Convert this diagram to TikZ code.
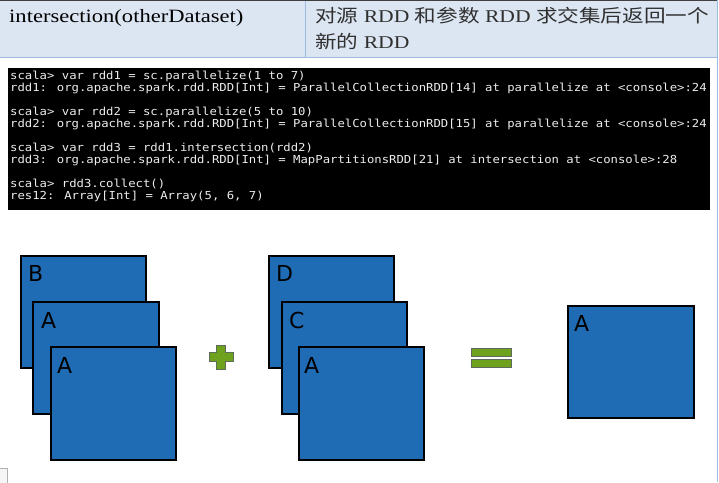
\documentclass[tikz,border=0pt]{standalone}
\usepackage{fontspec}
\setmainfont[FakeStretch=1.2]{Liberation Serif}
\newfontfamily\cjk[FakeStretch=1.2]{Noto Sans CJK SC}
\newfontfamily\consolefont[FakeStretch=1.115]{DejaVu Sans Mono}
\newfontfamily\labelfont{DejaVu Sans}
\usetikzlibrary{calc}
\definecolor{hdrbg}{HTML}{DCE6F2}
\definecolor{hdrline}{HTML}{9DBBDF}
\definecolor{topline}{HTML}{404040}
\definecolor{blockblue}{HTML}{1F6CB4}
\definecolor{opgreen}{HTML}{6EA21E}
\definecolor{opedge}{HTML}{5F6A5A}
\definecolor{consoletext}{HTML}{EDEDED}
\definecolor{cjkgray}{HTML}{303030}
\tikzset{
  block/.style={draw=black, fill=blockblue, line width=1.5pt, anchor=north west,
    inner sep=0, outer sep=0},
  lbl/.style={anchor=north west, inner sep=0, font=\labelfont\fontsize{22}{22}\selectfont, text=black},
  codeline/.style={anchor=base west, inner sep=0, text=consoletext,
    font=\consolefont\fontsize{11}{12}\selectfont},
  optile/.style={fill=opgreen, draw=opedge, line width=1pt},
  hdrtext/.style={anchor=base west, inner sep=0}
}
\begin{document}
\begin{tikzpicture}[x=1pt,y=-1pt]
\useasboundingbox (0,0) rectangle (719,482);
\fill[white] (0,0) rectangle (719,482);
% header row
\fill[hdrbg] (0,1) rectangle (717,57);
\draw[topline, line width=1.2pt] (0,0.6) -- (717,0.6);
\draw[hdrline, line width=1pt] (0,57) -- (717,57);
\draw[hdrline, line width=1pt] (305,1) -- (305,57);
\draw[hdrline, line width=1pt] (717.5,0) -- (717.5,482);
\node[hdrtext, font=\fontsize{18.8}{22}\selectfont] (hname) at (9,22) {intersection(otherDataset)};
\node[hdrtext, text=cjkgray, font=\fontsize{18}{22}\selectfont] (hdesc1) at (315,22)
  {{\cjk 对源} RDD {\cjk 和参数} RDD {\cjk 求交集后返回一个}};
\node[hdrtext, text=cjkgray, font=\fontsize{18}{22}\selectfont] (hdesc2) at (315,48)
  {{\cjk 新的} RDD};
% console
\node[fill=black, anchor=north west, minimum width=702pt, minimum height=142pt, inner sep=0] (console) at (8,68) {};
\node[codeline] (l1) at (10,79) {scala> var rdd1 = sc.parallelize(1 to 7)};
\node[codeline] (l2) at (10,91) {rdd1: org.apache.spark.rdd.RDD[Int] = ParallelCollectionRDD[14] at parallelize at <console>:24};
\node[codeline] (l3) at (10,115) {scala> var rdd2 = sc.parallelize(5 to 10)};
\node[codeline] (l4) at (10,127) {rdd2: org.apache.spark.rdd.RDD[Int] = ParallelCollectionRDD[15] at parallelize at <console>:24};
\node[codeline] (l5) at (10,151) {scala> var rdd3 = rdd1.intersection(rdd2)};
\node[codeline] (l6) at (10,163) {rdd3: org.apache.spark.rdd.RDD[Int] = MapPartitionsRDD[21] at intersection at <console>:28};
\node[codeline] (l7) at (10,187) {scala> rdd3.collect()};
\node[codeline] (l8) at (10,199) {res12: Array[Int] = Array(5, 6, 7)};
% first dataset
\node[block, minimum width=125pt, minimum height=112pt] (b1) at (21,256) {};
\node[lbl] (b1l) at ($(b1.north west)+(7,9)$) {B};
\node[block, minimum width=126pt, minimum height=112pt] (a1) at (33,302) {};
\node[lbl] (a1l) at ($(a1.north west)+(8,10)$) {A};
\node[block, minimum width=125pt, minimum height=113pt] (a2) at (51,347) {};
\node[lbl] (a2l) at ($(a2.north west)+(6,10)$) {A};
% plus
\draw[optile] (216.5,345) -- (225.5,345) -- (225.5,352.5) -- (233,352.5) -- (233,361.5)
  -- (225.5,361.5) -- (225.5,369) -- (216.5,369) -- (216.5,361.5) -- (209,361.5)
  -- (209,352.5) -- (216.5,352.5) -- cycle;
% second dataset
\node[block, minimum width=125pt, minimum height=112pt] (d1) at (269,256) {};
\node[lbl] (d1l) at ($(d1.north west)+(7,9)$) {D};
\node[block, minimum width=125pt, minimum height=112pt] (c1) at (282,302) {};
\node[lbl] (c1l) at ($(c1.north west)+(7,10)$) {C};
\node[block, minimum width=125pt, minimum height=113pt] (a3) at (299,347) {};
\node[lbl] (a3l) at ($(a3.north west)+(5,10)$) {A};
% equals
\draw[optile] (471,348.5) rectangle (511,356.5);
\draw[optile] (471,359.5) rectangle (511,367.5);
% result
\node[block, minimum width=126pt, minimum height=112pt] (r1) at (568,306) {};
\node[lbl] (r1l) at ($(r1.north west)+(6,9)$) {A};
% small corner icon
\draw[gray!60, line width=0.6pt, fill=gray!8] (-1,468) rectangle (7,483);
\end{tikzpicture}
\end{document}
